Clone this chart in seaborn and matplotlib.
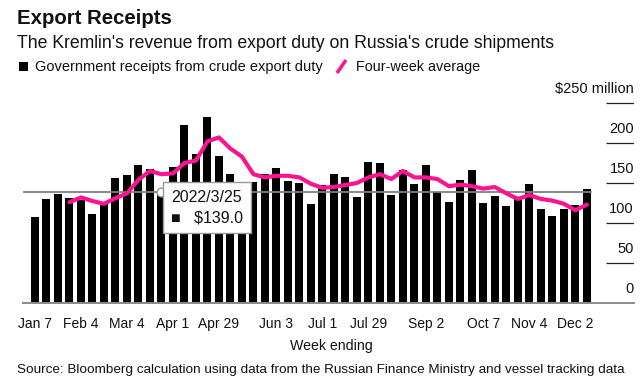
import numpy as np
import pandas as pd
import matplotlib
matplotlib.use("Agg")
import matplotlib.pyplot as plt
import matplotlib.transforms as mtransforms
from matplotlib.lines import Line2D
from matplotlib.patches import Rectangle
import seaborn as sns

# weekly data, week ending Friday
weeks = pd.date_range("2022-01-07", periods=49, freq="7D")
receipts = [108, 130, 136, 131, 129, 111, 125, 156, 160, 172,
            167, 139, 170, 222, 186, 233, 184, 161, 151, 151,
            161, 169, 153, 150, 124, 147, 161, 157, 132, 176,
            175, 135, 166, 149, 172, 139, 126, 154, 166, 125,
            134, 121, 131, 149, 117, 109, 117, 122, 142]
# four-week average starts with the 4th week
avg_start = 3
four_week_avg = [126, 132, 127.5, 124, 131, 137, 154, 165, 161, 162,
                 175, 178, 202, 207, 193, 183, 161, 157, 159, 159,
                 157, 149, 144, 145, 147.5, 150, 157, 161, 155, 165,
                 157, 157, 155, 146, 148, 146, 143, 145, 137, 130,
                 135, 130, 128, 124, 116, 123]

tick_dates = ["2022-01-07", "2022-02-04", "2022-03-04", "2022-04-01", "2022-04-29",
              "2022-06-03", "2022-07-01", "2022-07-29", "2022-09-02", "2022-10-07",
              "2022-11-04", "2022-12-02"]
tick_labels = ["Jan 7", "Feb 4", "Mar 4", "Apr 1", "Apr 29", "Jun 3", "Jul 1",
               "Jul 29", "Sep 2", "Oct 7", "Nov 4", "Dec 2"]
y_ticks = [0, 50, 100, 150, 200, 250]
y_labels = ["0", "50", "100", "150", "200", "$250 million"]
hover_date = "2022-03-25"

PINK = "#fa1490"
W, H = 644, 387

sns.set_theme(style="white")
plt.rcParams["font.family"] = ["Liberation Sans", "DejaVu Sans"]
plt.rcParams["text.color"] = "#111111"

fig = plt.figure(figsize=(W / 100, H / 100), dpi=100)
ax = fig.add_axes([23 / W, 1 - 303 / H, (634 - 23) / W, (303 - 100) / H])

df = pd.DataFrame({"pos": np.arange(len(weeks)), "receipts": receipts})
sns.barplot(data=df, x="pos", y="receipts", color="black", saturation=1,
            width=0.7, edgecolor="none", linewidth=0, ax=ax, zorder=2)

avg_df = pd.DataFrame({"pos": np.arange(avg_start, avg_start + len(four_week_avg)),
                       "avg": four_week_avg})
sns.lineplot(data=avg_df, x="pos", y="avg", color=PINK, lw=3.0, ax=ax, zorder=4)

xl, xr = -1.04, 52.1
ax.set_xlim(xl, xr)
ax.set_ylim(0, 253.75)

# x axis
pos_of = {d.strftime("%Y-%m-%d"): i for i, d in enumerate(weeks)}
ax.set_xticks([pos_of[d] for d in tick_dates])
ax.set_xticklabels(tick_labels, fontsize=10)
ax.tick_params(axis="x", length=5, width=1.2, color="#555555", pad=5, labelcolor="#111111")
ax.set_yticks([])
ax.set_xlabel("")
ax.set_ylabel("")
for s in ["top", "left", "right"]:
    ax.spines[s].set_visible(False)
ax.spines["bottom"].set_color("#8a8a8a")
ax.spines["bottom"].set_linewidth(1.4)
ax.spines["bottom"].set_zorder(3)

# right-hand y labels sitting on short rules
grid_left = 49.65
lab_tr = mtransforms.offset_copy(ax.transData, fig=fig, x=0, y=14, units="dots")
for v, lab in zip(y_ticks, y_labels):
    if v > 0:
        ax.hlines(v, grid_left, xr, color="#222222", lw=0.9, zorder=1)
    ax.text(xr, v, lab, transform=lab_tr, ha="right", va="center", fontsize=10.5)

# hover crosshair and tooltip
hi = pos_of[hover_date]
hv = receipts[hi]
bar_end = len(weeks) - 1 + 0.4
ax.axhline(hv, xmin=0, xmax=(bar_end - xl) / (xr - xl), color="#808080", lw=1.3, zorder=3)
ax.scatter([hi], [hv], s=40, facecolor="white", edgecolor="#999999", lw=1, zorder=5)
ax.annotate(f"{weeks[hi].year}/{weeks[hi].month}/{weeks[hi].day}\n\u25a0   ${hv:.1f}",
            xy=(hi, hv), xytext=(10, 2), textcoords="offset pixels",
            ha="left", va="top", fontsize=11.5, linespacing=1.45, zorder=6,
            bbox=dict(boxstyle="square,pad=0.5", fc="white", ec="#999999", lw=1))

# titles
fig.text(17 / W, 1 - 23.5 / H, "Export Receipts", fontsize=14.7, fontweight="bold", ha="left")
fig.text(17 / W, 1 - 48 / H, "The Kremlin's revenue from export duty on Russia's crude shipments",
         fontsize=12.7, ha="left")

# legend
fig.patches.append(Rectangle((19 / W, 1 - 71 / H), 9 / W, 9 / H, transform=fig.transFigure,
                             fc="black", ec="none"))
fig.text(35 / W, 1 - 71 / H, "Government receipts from crude export duty", fontsize=10.5, ha="left")
fig.lines.append(Line2D([337 / W, 346 / W], [1 - 73 / H, 1 - 60 / H], transform=fig.transFigure,
                        color=PINK, lw=2.5, solid_capstyle="butt"))
fig.text(356 / W, 1 - 71 / H, "Four-week average", fontsize=10.4, ha="left")

fig.text(331 / W, 1 - 350 / H, "Week ending", fontsize=10.2, ha="center")
fig.text(17 / W, 1 - 373 / H,
         "Source: Bloomberg calculation using data from the Russian Finance Ministry and vessel tracking data",
         fontsize=9.7, ha="left")

fig.savefig("out.png", dpi=100)
